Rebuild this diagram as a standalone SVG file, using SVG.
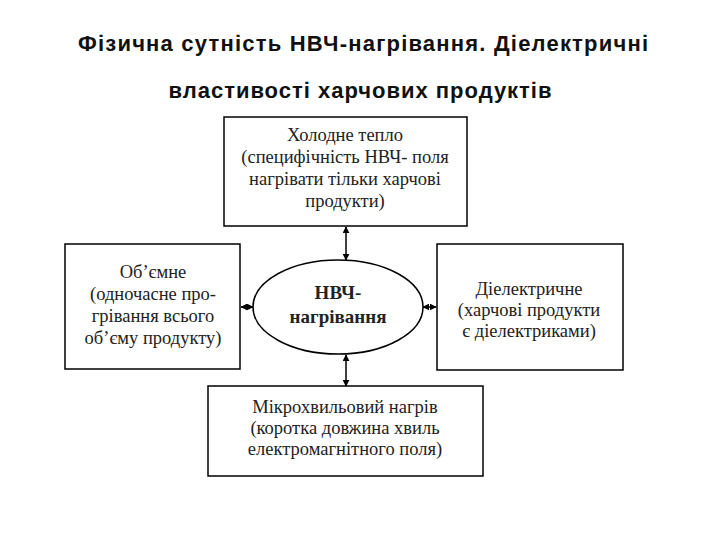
<svg xmlns="http://www.w3.org/2000/svg" width="720" height="540" viewBox="0 0 720 540">
<defs>
<marker id="ah" viewBox="0 0 10 10" refX="9" refY="5" markerWidth="7" markerHeight="7" orient="auto-start-reverse" markerUnits="userSpaceOnUse">
<path d="M0,0 L10,5 L0,10 z" fill="#000"/>
</marker>
<style>
.title{font-family:"Liberation Sans",Arial,sans-serif;font-weight:bold;font-size:22px;fill:#111;text-anchor:middle}
.box{fill:#fff;stroke:#000;stroke-width:1.5}
.t{font-family:"Liberation Serif","DejaVu Serif",serif;font-size:18.5px;fill:#222;text-anchor:middle}
.b{font-family:"Liberation Serif","DejaVu Serif",serif;font-size:19px;font-weight:bold;fill:#222;text-anchor:middle}
.c{stroke:#000;stroke-width:1.5;fill:none;marker-start:url(#ah);marker-end:url(#ah)}
</style>
</defs>
<rect width="720" height="540" fill="#fff"/>
<text class="title" x="363" y="51" textLength="570" lengthAdjust="spacing">Фізична сутність НВЧ-нагрівання. Діелектричні</text>
<text class="title" x="360" y="98" textLength="383" lengthAdjust="spacing">властивості харчових продуктів</text>
<g id="top">
<rect class="box" x="224" y="117" width="243" height="109"/>
<text class="t" x="345" y="141">Холодне тепло</text>
<text class="t" x="345" y="163">(специфічність НВЧ- поля</text>
<text class="t" x="345" y="185">нагрівати тільки харчові</text>
<text class="t" x="345" y="207">продукти)</text>
</g>
<g id="left">
<rect class="box" x="65" y="244" width="175" height="125"/>
<text class="t" x="153" y="278">Об’ємне</text>
<text class="t" x="153" y="300">(одночасне про-</text>
<text class="t" x="153" y="322">грівання всього</text>
<text class="t" x="153" y="344">об’єму продукту)</text>
</g>
<g id="right">
<rect class="box" x="437" y="244" width="186" height="126"/>
<text class="t" x="529" y="295">Діелектричне</text>
<text class="t" x="529" y="316">(харчові продукти</text>
<text class="t" x="529" y="337">є діелектриками)</text>
</g>
<g id="bottom">
<rect class="box" x="208" y="386" width="275" height="90"/>
<text class="t" x="345" y="413">Мікрохвильовий нагрів</text>
<text class="t" x="345" y="434">(коротка довжина хвиль</text>
<text class="t" x="345" y="455">електромагнітного поля)</text>
</g>
<g id="center">
<ellipse cx="338" cy="307" rx="85" ry="47" fill="#fff" stroke="#000" stroke-width="1.5"/>
<text class="b" x="338" y="299">НВЧ-</text>
<text class="b" x="338" y="323">нагрівання</text>
</g>
<g id="connectors">
<line class="c" x1="346" y1="227" x2="346" y2="260"/>
<line class="c" x1="346" y1="355" x2="346" y2="386"/>
<line class="c" x1="241" y1="307" x2="253" y2="307"/>
<line class="c" x1="423" y1="307" x2="436" y2="307"/>
</g>
</svg>
